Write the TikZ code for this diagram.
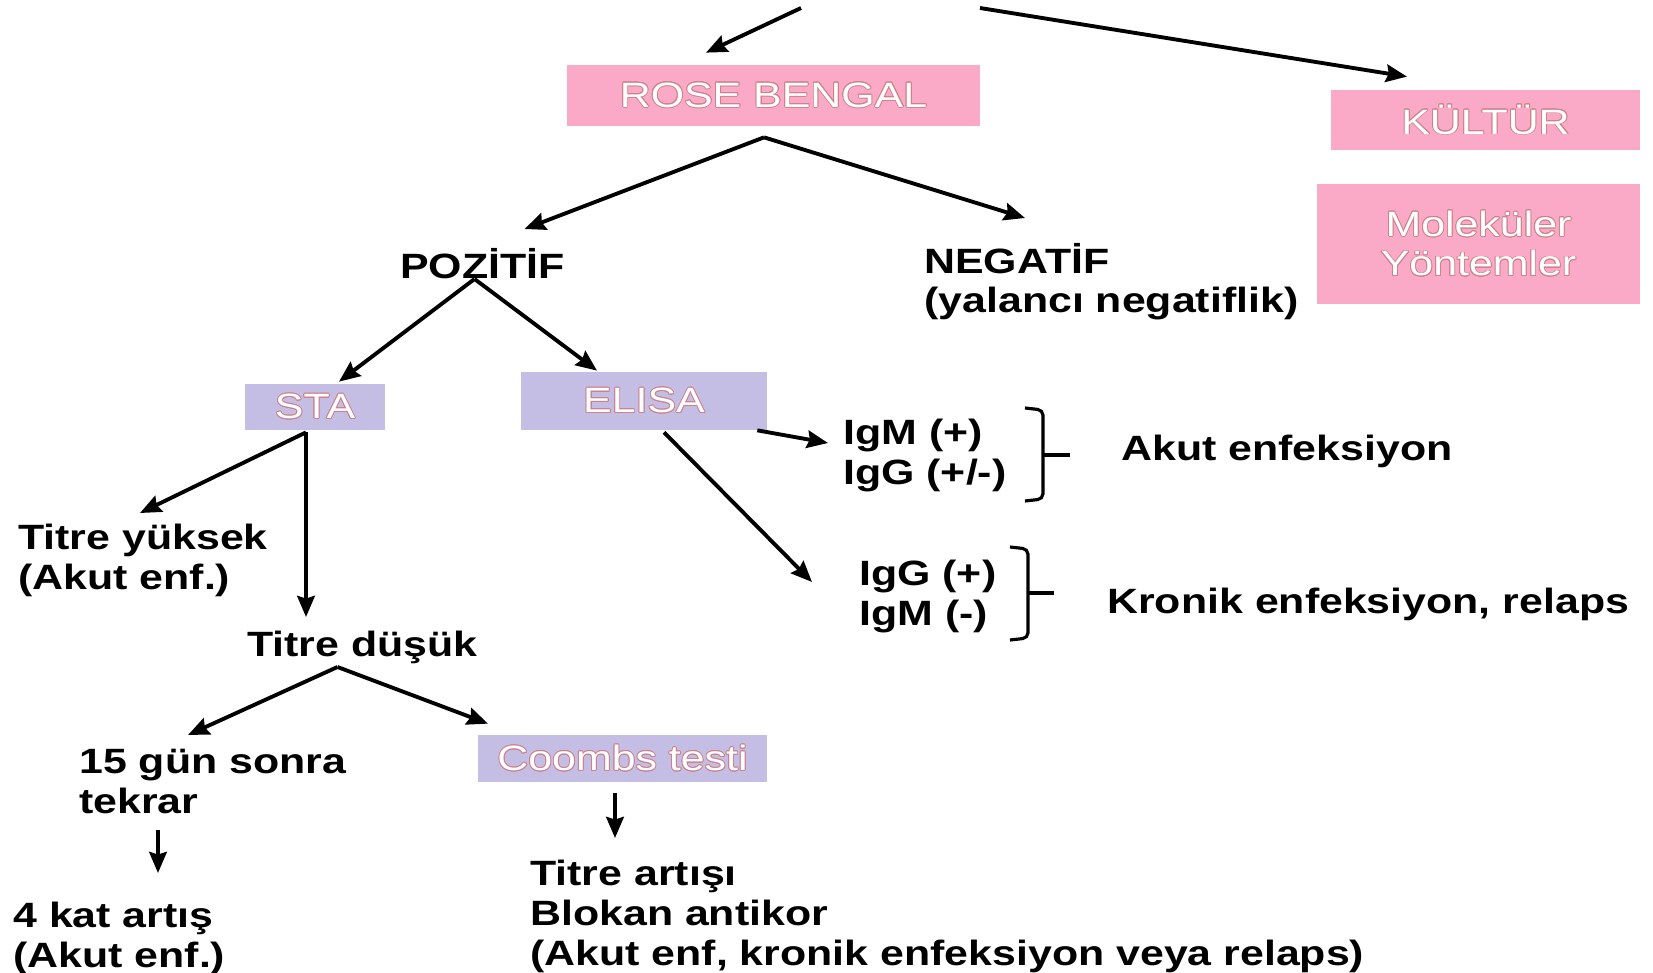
\documentclass[tikz,border=0pt]{standalone}
\usepackage{fontspec}
\setmainfont{Liberation Sans}[FakeStretch=1.22]
\usepackage{contour}
\usetikzlibrary{arrows.meta, calc, positioning}
\definecolor{rosefill}{RGB}{250,170,198}
\definecolor{lilacfill}{RGB}{197,190,228}
\definecolor{roseedge}{RGB}{205,130,140}
\contourlength{0.5pt}
\newcommand{\boxtext}[1]{\contour{roseedge}{#1}}

\begin{document}
\begin{tikzpicture}[x=0.02cm, y=-0.02cm,
	every node/.style={font=\fontsize{20pt}{22.5pt}\selectfont},
	txt/.style={font=\fontsize{20pt}{22.5pt}\selectfont\bfseries, align=left, anchor=base west, inner sep=0pt},
	box/.style={text=white, align=center, inner sep=0pt},
	pinkbox/.style={box, fill=rosefill},
	lilacbox/.style={box, fill=lilacfill},
	arr/.style={-{Stealth[length=12pt, width=10pt, inset=1.5pt]}, line width=2.2pt},
	brk/.style={line width=1.8pt, rounded corners=3pt}]
	\useasboundingbox (0,0) rectangle (1653,973);
	
	\node[pinkbox, minimum width=8.26cm, minimum height=1.22cm] (rb) at (773.5,95.5) {\boxtext{ROSE BENGAL}};
	\node[pinkbox, minimum width=6.18cm, minimum height=1.2cm] (kul) at (1485.5,120) {\boxtext{KÜLTÜR}};
	\node[pinkbox, minimum width=6.46cm, minimum height=2.4cm] (mol) at (1478.5,244) {\boxtext{Moleküler}\\\boxtext{Yöntemler}};
	\coordinate (src1) at (801,8);
	\coordinate (src2) at (980,8);
	
	\node[txt] (poz) at (400,278) {POZİTİF};
	\node[txt] (neg) at (924,313) {NEGATİF\\(yalancı negatiflik)};
	
	\node[lilacbox, minimum width=2.8cm, minimum height=0.92cm] (sta) at (315,407) {\boxtext{STA}};
	\node[lilacbox, minimum width=4.92cm, minimum height=1.16cm] (eli) at (644,401) {\boxtext{ELISA}};
	
	\node[txt] (igm) at (843,484.5) {IgM (+)\\IgG (+/-)};
	\node[txt] (akut) at (1121,460) {Akut enfeksiyon};
	\node[txt] (igg) at (859,625.5) {IgG (+)\\IgM (-)};
	\node[txt] (kron) at (1107,613) {Kronik enfeksiyon, relaps};
	
	\node[txt] (tyu) at (18,589.5) {Titre yüksek\\(Akut enf.)};
	\node[txt] (tdu) at (247,656) {Titre düşük};
	\node[txt] (gun) at (79,813.5) {15 gün sonra\\tekrar};
	\node[lilacbox, minimum width=5.78cm, minimum height=0.94cm] (coo) at (622.5,758.5) {\boxtext{Coombs testi}};
	\node[txt] (kat) at (13,967.5) {4 kat artış\\(Akut enf.)};
	\node[txt] (tar) at (530,965) {Titre artışı\\Blokan antikor\\(Akut enf, kronik enfeksiyon veya relaps)};
	
	\draw[arr] (src1) -- ($(rb.north)+(-67.5,-12)$);
	\draw[arr] (src2) -- ($(kul.north)+(-78.5,-13)$);
	\draw[arr] ($(rb.south)+(-9.5,11)$) -- ($(poz.base)+(42,-49)$);
	\draw[arr] ($(rb.south)+(-9.5,11)$) -- ($(neg.base west)+(101,-95)$);
	\draw[arr] ($(poz.base)+(-8,1)$) -- ($(sta.north)+(24,-2)$);
	\draw[arr] ($(poz.base)+(-8,1)$) -- ($(eli.north)+(-47,-1)$);
	\draw[arr] ($(sta.south)+(-9,2)$) -- ($(tyu.base west)+(122,-76.5)$);
	\draw[arr] ($(sta.south)+(-9,2)$) -- ($(tdu.base west)+(59,-39)$);
	\draw[arr] ($(eli.south east)+(-10,0)$) -- ($(igm.base west)+(-15,-41.5)$);
	\draw[arr] ($(eli.south)+(20,2)$) -- ($(igg.base west)+(-47,-43.5)$);
	\draw[arr] ($(tdu.base)+(-25,11)$) -- ($(gun.base west)+(109,-78.5)$);
	\draw[arr] ($(tdu.base)+(-25,11)$) -- ($(coo.north)+(-134.5,-11)$);
	\draw[arr] ($(gun.base west)+(79,16.5)$) -- ($(kat.base west)+(145,-94.5)$);
	\draw[arr] ($(coo.south)+(-7.5,11)$) -- ($(tar.base west)+(85,-127)$);
	
	\draw[brk] (1025,408) -- (1043,410) -- (1043,499) -- (1025,501);
	\draw[brk] (1043,455) -- (1070,455);
	\draw[brk] (1010,547) -- (1028,549) -- (1028,638) -- (1010,640);
	\draw[brk] (1028,593) -- (1054,593);
\end{tikzpicture}
\end{document}
